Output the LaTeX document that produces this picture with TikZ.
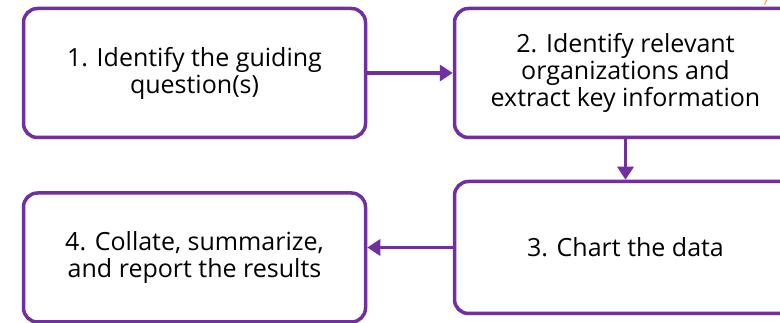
\documentclass[tikz,border=0pt]{standalone}
\usepackage{fontspec}
\setmainfont{Open Sans}
\usetikzlibrary{positioning, arrows.meta}

\definecolor{stepPurple}{HTML}{7030A0}
\definecolor{stepOrange}{HTML}{F0A030}

\tikzset{
	stepbox/.style={rectangle, rounded corners=14pt,
		draw=stepPurple, line width=3.5pt, fill=white,
		minimum width=342pt, minimum height=129pt,
		align=center, text=black,
		font=\fontsize{25}{27}\selectfont},
	flow/.style={draw=stepPurple, line width=3.5pt,
		-{Triangle[length=13pt, width=16pt]}}
}

\begin{document}
\begin{tikzpicture}[x=1pt, y=1pt]
\useasboundingbox (0,0) rectangle (780,-323);

% Add the steps
\node[stepbox] (identify) at (194.5,-73) {1. Identify the guiding\\question(s)};

\node[stepbox,
		right=85.5pt of identify] (extract) {2. Identify relevant\\organizations and\\extract key information};

\node[stepbox,
		below=40.5pt of extract,
		minimum height=132pt] (chart) {3. Chart the data};

\node[stepbox,
		left=85.5pt of chart,
		yshift=-10pt] (report) {4. Collate, summarize,\\and report the results};

% Connect them
\draw[flow] (identify) -- (extract);
\draw[flow] (extract) -- (chart);
\draw[flow] (chart.west) -- (chart.west -| report.east);

% small fragment at top right
\draw[stepOrange, line width=1pt] (766.5,0) -- (764.5,-5);
\end{tikzpicture}
\end{document}
